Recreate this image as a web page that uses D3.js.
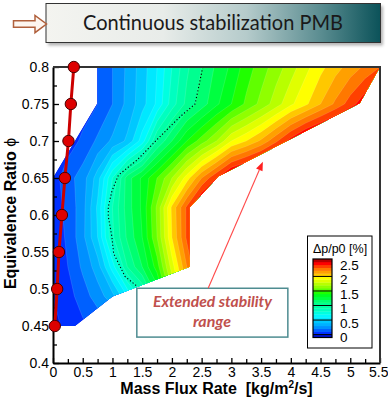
<!DOCTYPE html>
<html><head><meta charset="utf-8">
<script src="https://cdn.jsdelivr.net/npm/d3@7"></script>
<style>body{margin:0;background:#fff}svg{display:block}</style>
</head><body>
<svg id="c" width="388" height="404"></svg>
<script>
// ---------- DATA ----------
const massFlux = [0,0.25,0.5,0.75,1,1.25,1.5,1.75,2,2.25,2.5,2.75,3,3.25,3.5,3.75,4,4.25,4.5,4.75,5,5.25,5.5];
const phiRows  = [0.45,0.49,0.53,0.57,0.61,0.65,0.70,0.75,0.80];
// Δp/p0 [%] along each phi row, one value per massFlux column
const dp045 = [0.08,0.12,0.18,0.22,0.25,0.4,0.6,0.9,1.3,1.8,2.3,2.7,2.8,2.9,3.0,3.1,3.2,3.3,3.4,3.5,3.6,3.7,3.8];
const dp049 = [0.1,0.16,0.25,0.35,0.46,0.7,0.95,1.3,1.75,2.2,2.6,2.8,2.9,3.0,3.1,3.2,3.3,3.4,3.5,3.6,3.7,3.8,3.9];
const dp053 = [0.12,0.2,0.32,0.45,0.75,1.1,1.3,1.55,1.95,2.3,2.6,2.8,2.9,3.0,3.1,3.2,3.3,3.4,3.5,3.6,3.7,3.8,3.9];
const dp057 = [0.13,0.22,0.37,0.6,0.98,1.22,1.4,1.7,2.1,2.42,2.7,2.8,2.9,3.0,3.1,3.2,3.3,3.4,3.5,3.6,3.7,3.8,3.9];
const dp061 = [0.15,0.23,0.36,0.62,1.0,1.25,1.42,1.72,2.12,2.42,2.7,2.8,2.9,3.0,3.1,3.2,3.3,3.4,3.5,3.6,3.7,3.8,3.9];
const dp065 = [0.15,0.26,0.35,0.55,0.9,1.25,1.42,1.6,1.8,2.05,2.3,2.5,2.7,2.8,2.9,3.0,3.1,3.2,3.3,3.4,3.5,3.6,3.7];
const dp070 = [0.08,0.15,0.22,0.32,0.42,0.52,0.75,1.1,1.3,1.5,1.65,1.8,2.0,2.1,2.22,2.38,2.55,2.7,2.8,2.9,3.0,3.1,3.2];
const dp075 = [0.05,0.1,0.15,0.2,0.3,0.43,0.56,0.72,0.95,1.13,1.25,1.38,1.5,1.62,1.73,1.85,1.98,2.08,2.2,2.32,2.45,2.58,2.7];
const dp080 = [0,0.05,0.12,0.2,0.3,0.42,0.55,0.7,0.9,1.08,1.2,1.32,1.42,1.55,1.65,1.75,1.85,1.97,2.07,2.16,2.24,2.32,2.4];
const dpGrid = [dp045,dp049,dp053,dp057,dp061,dp065,dp070,dp075,dp080];

// measured domain outline
const domainFlux = [0.74,5.5,5.16,2.78,2.3,2.3,1.0,0.37,0,0,0.74];
const domainPhi  = [0.8,0.8,0.751,0.652,0.61,0.53,0.49,0.45,0.45,0.65,0.75];

// stability limit (red line)
const limitPhi  = [0.45,0.5,0.55,0.6,0.65,0.7,0.75,0.8];
const limitFlux = [0.03,0.07,0.10,0.15,0.20,0.26,0.30,0.35];

// dotted line
const dotFlux = [2.52,2.39,2.14,1.8,1.41,1.1,0.99,0.93,0.93,0.99,1.02,1.13,1.21,1.41];
const dotPhi  = [0.80,0.75,0.733,0.706,0.674,0.654,0.632,0.611,0.598,0.571,0.548,0.53,0.517,0.504];

// contour levels & colour bands
const levels = [0,0.1,0.2,0.3,0.4,0.5,0.6,0.7,0.8,0.9,1.0,1.1,1.2,1.3,1.4,1.5,1.6,1.7,1.8,1.9,2.0,2.1,2.2,2.3,2.4,2.5,2.6];
const bandColors = ["#0010d0","#0030ff","#0060ff","#0090ff","#00b0ff","#00c8ff","#00e8ff","#00f8ff","#00ffe0","#00ffc0",
  "#00ffa8","#00ff90","#00ff70","#00ff40","#00ff20","#20ff00","#60ff00","#90ff00","#b8ff00","#e0ff00",
  "#ffff00","#ffc800","#ffa000","#ff7800","#ff4000","#ff0000","#b40000"];
const cbTop = 2.7;
const cbTicks = [0,0.5,1,1.5,2,2.5];
const cbLines = [0.1,0.6,1.1,1.6,2.1];

const xTicks = [0,0.5,1,1.5,2,2.5,3,3.5,4,4.5,5,5.5];
const xMinor = [0.25,0.75,1.25,1.75,2.25,2.75,3.25,3.75,4.25,4.75,5.25];
const yTicks = [0.4,0.45,0.5,0.55,0.6,0.65,0.7,0.75,0.8];
const yMinor = [0.425,0.475,0.525,0.575,0.625,0.675,0.725,0.775];

// ---------- DRAW ----------
const svg = d3.select("#c");
const FONT = "'Liberation Sans', Arial, sans-serif";
const x = d3.scaleLinear().domain([0,5.5]).range([53,380]);
const y = d3.scaleLinear().domain([0.4,0.8]).range([363,67]);
const defs = svg.append("defs");

// title box
const grad = defs.append("linearGradient").attr("id","tg").attr("x1","0").attr("x2","1").attr("y1","0").attr("y2","0");
[[0,"#f4f4f0"],[0.35,"#e8ece9"],[0.6,"#b5cbcb"],[0.82,"#5b8d91"],[1,"#0b5259"]].forEach(s=>
  grad.append("stop").attr("offset",s[0]).attr("stop-color",s[1]));
const blur = defs.append("filter").attr("id","sh").attr("x","-5%").attr("y","-20%").attr("width","110%").attr("height","150%");
blur.append("feGaussianBlur").attr("stdDeviation",1.5);
svg.append("rect").attr("x",48).attr("y",6).attr("width",335).attr("height",39.5).attr("fill","#777").attr("opacity",0.55).attr("filter","url(#sh)");
svg.append("rect").attr("x",46).attr("y",3.5).attr("width",334.5).attr("height",39).attr("fill","url(#tg)").attr("stroke","#333").attr("stroke-width",1);
svg.append("text").attr("x",213).attr("y",30).attr("text-anchor","middle")
  .attr("font-family","Lato, 'Open Sans', sans-serif").attr("font-size",21).attr("fill","#1a1a1a")
  .attr("textLength",260).attr("lengthAdjust","spacingAndGlyphs").text("Continuous stabilization PMB");
svg.append("path").attr("d","M13.5,20.7 L35,20.7 L35,15.5 L46.5,24 L35,32.7 L35,27.3 L13.5,27.3 Z")
  .attr("fill","#fdf6f0").attr("stroke","#b0603c").attr("stroke-width",1.5).attr("stroke-linejoin","miter");

// contour field
const nx = massFlux.length, ny = phiRows.length;
const values = dpGrid.flat();
const cont = d3.contours().size([nx, ny]).thresholds(levels)(values);
const colIdx = d3.scaleLinear().domain([0.5, nx-0.5]).range([massFlux[0], massFlux[nx-1]]);
const rowIdx = d3.scaleLinear().domain(phiRows.map((_,j)=>j+0.5)).range(phiRows);
const proj = d3.geoTransform({point(px,py){ this.stream.point(x(colIdx(px)), y(rowIdx(py))); }});
const gpath = d3.geoPath(proj);
const color = d3.scaleThreshold().domain(levels.slice(1)).range(bandColors);

defs.append("clipPath").attr("id","dom").append("path")
  .attr("d", d3.line()(domainFlux.map((f,i)=>[x(f), y(domainPhi[i])])) + "Z");
const field = svg.append("g").attr("clip-path","url(#dom)");
field.selectAll("path").data(cont).join("path")
  .attr("d", d=>gpath(d))
  .attr("fill", d=>color(d.value))
  .attr("stroke", "rgba(255,255,255,0.28)").attr("stroke-width",0.45);

// dotted line
svg.append("path").attr("d", d3.line()(dotFlux.map((f,i)=>[x(f), y(dotPhi[i])])))
  .attr("fill","none").attr("stroke","#000").attr("stroke-width",1.1).attr("stroke-dasharray","1.2,2.2");

// axes
svg.append("g").attr("transform","translate(53,0)")
  .call(d3.axisLeft(y).tickValues(yTicks).tickFormat(d3.format("")).tickSize(-6).tickSizeOuter(0).tickPadding(4));
svg.append("g").attr("transform","translate(53,0)")
  .call(d3.axisLeft(y).tickValues(yMinor).tickFormat("").tickSize(-4).tickSizeOuter(0))
  .call(g=>g.select(".domain").remove());
const xAx = svg.append("g").attr("transform","translate(0,363)")
  .call(d3.axisBottom(x).tickValues(xTicks).tickFormat(d3.format("")).tickSize(-5).tickSizeOuter(0).tickPadding(4));
svg.append("g").attr("transform","translate(0,363)")
  .call(d3.axisBottom(x).tickValues(xMinor).tickFormat("").tickSize(-4).tickSizeOuter(0))
  .call(g=>g.select(".domain").remove());
svg.selectAll(".tick text").attr("font-family",FONT).attr("font-size",14).attr("fill","#000");
// keep the last x label inside the page
xAx.selectAll(".tick text").filter(d=>d===xTicks[xTicks.length-1]).attr("text-anchor","end").attr("x",8);
svg.selectAll(".tick line").attr("stroke","#000").attr("stroke-width",1.3);
svg.selectAll(".domain").attr("stroke","#000").attr("stroke-width",2);
// frame
svg.append("path").attr("d",`M${x(0)},${y(0.8)}H${x(5.5)}V${y(0.4)}`)
  .attr("fill","none").attr("stroke","#333").attr("stroke-width",2);

// stability limit
svg.append("path").attr("d", d3.line()(limitFlux.map((f,i)=>[x(f), y(limitPhi[i])])))
  .attr("fill","none").attr("stroke","#cc0000").attr("stroke-width",3);
svg.selectAll("circle.lim").data(limitPhi).join("circle").attr("class","lim")
  .attr("cx",(p,i)=>x(limitFlux[i])).attr("cy",p=>y(p)).attr("r",5.7)
  .attr("fill","#dd0000").attr("stroke","#4a0000").attr("stroke-width",1);

// axis titles
svg.append("text").attr("x",216.5).attr("y",394).attr("text-anchor","middle")
  .attr("font-family",FONT).attr("font-weight","bold").attr("font-size",16).style("white-space","pre")
  .call(t=>{ t.append("tspan").text("Mass Flux Rate  [kg/m");
             t.append("tspan").attr("dy",-6).attr("font-size",10).text("2");
             t.append("tspan").attr("dy",6).text("/s]"); });
svg.append("text").attr("transform","translate(16,213.5) rotate(-90)").attr("text-anchor","middle")
  .attr("font-family",FONT).attr("font-weight","bold").attr("font-size",16).style("white-space","pre")
  .call(t=>{ t.append("tspan").text("Equivalence Ratio ");
             t.append("tspan").attr("font-weight","normal").text("ϕ"); });

// annotation
svg.append("rect").attr("x",x(1.41)).attr("y",y(0.501)).attr("width",x(3.95)-x(1.41)).attr("height",y(0.435)-y(0.501))
  .attr("fill","#fff").attr("stroke","#4e8c91").attr("stroke-width",1.5);
const annColor = "#c0504d";
svg.append("text").attr("x",212.5).attr("y",307).attr("text-anchor","middle")
  .attr("font-family","Lato, 'Open Sans', sans-serif").attr("font-weight","bold").attr("font-style","italic")
  .attr("font-size",15).attr("fill",annColor).attr("textLength",119).attr("lengthAdjust","spacingAndGlyphs")
  .text("Extended stability");
svg.append("text").attr("x",212).attr("y",327).attr("text-anchor","middle")
  .attr("font-family","Lato, 'Open Sans', sans-serif").attr("font-weight","bold").attr("font-style","italic")
  .attr("font-size",15).attr("fill",annColor).attr("textLength",38).attr("lengthAdjust","spacingAndGlyphs")
  .text("range");
{
  const x0 = x(2.61), y0 = y(0.501), x1 = x(3.53), y1 = y(0.672);
  const ang = Math.atan2(y1-y0, x1-x0), L = 9, W = 3.5;
  const bx = x1 - L*Math.cos(ang), by = y1 - L*Math.sin(ang);
  svg.append("line").attr("x1",x0).attr("y1",y0).attr("x2",bx).attr("y2",by)
    .attr("stroke","#ff4a4a").attr("stroke-width",1.1);
  svg.append("path").attr("d",`M${x1},${y1}L${bx+W*Math.sin(ang)},${by-W*Math.cos(ang)}L${bx-W*Math.sin(ang)},${by+W*Math.cos(ang)}Z`)
    .attr("fill","#ff2020");
}

// legend / colour bar
svg.append("rect").attr("x",307.5).attr("y",236).attr("width",64.5).attr("height",112)
  .attr("fill","#fff").attr("stroke","#000").attr("stroke-width",1);
svg.append("text").attr("x",340).attr("y",253).attr("text-anchor","middle")
  .attr("font-family",FONT).attr("font-size",12.5).text("Δp/p0 [%]");
const cb = d3.scaleLinear().domain([0,2.5]).range([337.5,264.8]);
const cbx = 313, cbw = 19;
svg.selectAll("rect.cb").data(levels).join("rect").attr("class","cb")
  .attr("x",cbx).attr("width",cbw)
  .attr("y",(v,i)=>cb(i<levels.length-1?levels[i+1]:cbTop))
  .attr("height",(v,i)=>cb(v)-cb(i<levels.length-1?levels[i+1]:cbTop)+0.3)
  .attr("fill",(v,i)=>bandColors[i]);
svg.selectAll("line.cbl").data(cbLines).join("line").attr("class","cbl")
  .attr("x1",cbx).attr("x2",cbx+cbw).attr("y1",d=>cb(d)).attr("y2",d=>cb(d))
  .attr("stroke","#000").attr("stroke-width",1);
svg.append("rect").attr("x",cbx).attr("y",cb(cbTop)).attr("width",cbw).attr("height",cb(0)-cb(cbTop))
  .attr("fill","none").attr("stroke","#000").attr("stroke-width",1.2);
svg.selectAll("text.cbt").data(cbTicks).join("text").attr("class","cbt")
  .attr("x",340).attr("y",d=>cb(d)).attr("dy","0.35em")
  .attr("font-family",FONT).attr("font-size",13.5).text(d=>d);
</script>
</body></html>
